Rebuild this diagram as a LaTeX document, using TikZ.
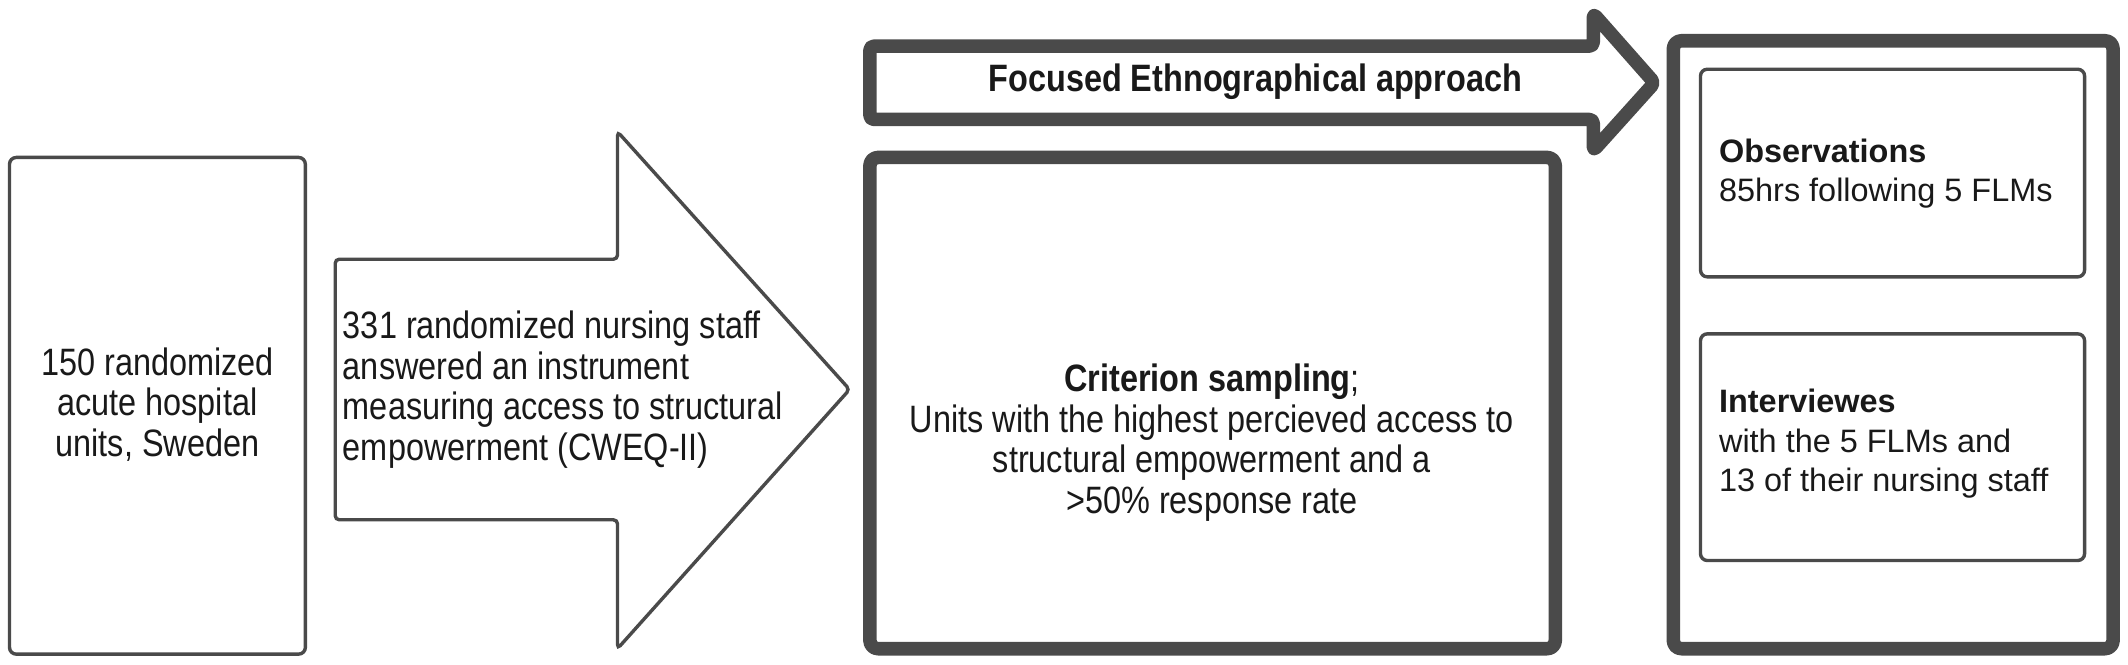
\documentclass[tikz,border=0pt]{standalone}
\usepackage{fontspec}
\setmainfont{Liberation Sans}
\newfontfamily\narrowsans[FakeStretch=0.85]{Liberation Sans}
\usetikzlibrary{positioning}
\usepackage{xcolor}
\definecolor{edgegray}{HTML}{4A4A4A}

\tikzset{
  thinframe/.style={draw=edgegray, line width=2.5*0.1mm, rounded corners=5*0.1mm},
  thickframe/.style={draw=edgegray, line width=10*0.1mm, rounded corners=6*0.1mm, line join=round},
  narrowtext/.style={font=\narrowsans\fontsize{8}{8.5}\selectfont, text=black!90, inner sep=0pt},
  sidetext/.style={font=\fontsize{6.8}{8.3}\selectfont, text=black!90, inner sep=0pt, align=left}
}

\begin{document}
\begin{tikzpicture}[x=0.1mm, y=-0.1mm]

\useasboundingbox (0,0) rectangle (1568,490);

% left box
\draw[thinframe] (7,116) rectangle (225,482);
\node[narrowtext, align=center] (units) at (116,298) {150 randomized\\acute hospital\\units, Sweden};

% big arrow
\draw[thinframe, rounded corners=3*0.1mm] (247,191) -- (455,191) -- (455,97) -- (626,287) -- (455,478) -- (455,383) -- (247,383) -- cycle;
\node[narrowtext, align=left, anchor=west] (staff) at (252,287) {331 randomized nursing staff\\answered an instrument\\measuring access to structural\\empowerment (CWEQ-II)};

% top arrow
\draw[thickframe, rounded corners=3*0.1mm] (641,34) -- (1174,34) -- (1174,10) -- (1219,61) -- (1174,111) -- (1174,88) -- (641,88) -- cycle;
\node[narrowtext, font=\narrowsans\bfseries\fontsize{8}{8.5}\selectfont] (ethno) at (925,60) {Focused Ethnographical approach};

% middle box
\draw[thickframe] (641,116) rectangle (1146,478);
\node[narrowtext, align=center] (criterion) at (893,326) {\textbf{Criterion sampling};\\Units with the highest percieved access to\\structural empowerment and a\\>50\% response rate};

% right box
\draw[thickframe] (1233,30) rectangle (1557,478);
\draw[thinframe] (1253,51) rectangle (1536,204);
\draw[thinframe] (1253,246) rectangle (1536,413);
\node[sidetext, anchor=west] (obs) at (1266,128) {\textbf{Observations}\\85hrs following 5 FLMs};
\node[sidetext, anchor=west] (interv) at (1266,327) {\textbf{Interviewes}\\with the 5 FLMs and\\13 of their nursing staff};

\end{tikzpicture}
\end{document}
